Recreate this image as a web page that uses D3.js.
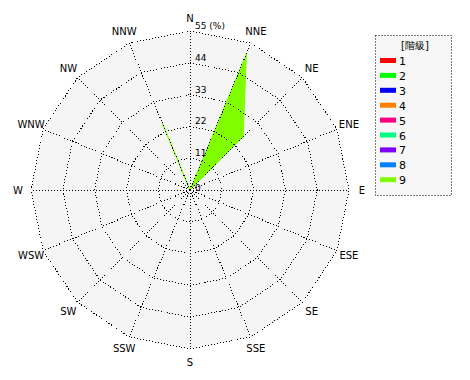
<!DOCTYPE html>
<html>
<head>
<meta charset="utf-8">
<script src="https://cdn.jsdelivr.net/npm/d3@7"></script>
<style>
  body { margin: 0; background: #fff; }
  text { font-family: "DejaVu Sans", sans-serif; font-size: 10px; fill: #000; }
</style>
</head>
<body>
<div id="chart"></div>
<script>
let width = 470, height = 380, cx = 190, cy = 190, radius = 159, labelRadius = 172;

let directions = ["N","NNE","NE","ENE","E","ESE","SE","SSE","S","SSW","SW","WSW","W","WNW","NW","NNW"];
let ticks = [11, 22, 33, 44, 55];
let classes = ["1","2","3","4","5","6","7","8","9"];
let classColors = ["#ff0000","#00ff00","#0000ff","#ff8000","#ff0080","#00ff80","#8000ff","#0080ff","#80ff00"];

// frequency (%) per direction, one array per class (N..NNW)
let class1 = [0,0,0,0,0,0,0,0,0,0,0,0,0,0,0,0];
let class2 = [0,0,0,0,0,0,0,0,0,0,0,0,0,0,0,0];
let class3 = [0,0,0,0,0,0,0,0,0,0,0,0,0,0,0,0];
let class4 = [0,0,0,0,0,0,0,0,0,0,0,0,0,0,0,0];
let class5 = [0,0,0,0,0,0,0,0,0,0,0,0,0,0,0,0];
let class6 = [0,0,0,0,0,0,0,0,0,0,0,0,0,0,0,0];
let class7 = [0,0,0,0,0,0,0,0,0,0,0,0,0,0,0,0];
let class8 = [0,0,0,0,0,0,0,0,0,0,0,0,0,0,0,0];
let class9 = [0,51,26,0,0,0,0,0,0,0,0,0,0,0,0,25];
let series = [class1, class2, class3, class4, class5, class6, class7, class8, class9];

let svg = d3.select("#chart")
    .append("svg")
    .attr("width", width)
    .attr("height", height);

let r = d3.scaleLinear().domain([0, 55]).range([0, radius]);
let angle = d3.scaleLinear().domain([0, directions.length]).range([0, 2 * Math.PI]);

function pt(i, v) {
    let a = angle(i);
    return [cx + r(v) * Math.sin(a), cy - r(v) * Math.cos(a)];
}

// background polygon
svg.append("polygon")
    .attr("points", directions.map(function(d, i) { return pt(i, 55).join(","); }).join(" "))
    .attr("fill", "#f5f5f5");

// stacked (cumulative) polygons, outermost first
let cum = [];
series.forEach(function(s, k) {
    cum.push(s.map(function(v, i) { return v + (k > 0 ? cum[k-1][i] : 0); }));
});
for (let k = series.length - 1; k >= 0; k--) {
    if (d3.max(cum[k]) === 0) continue;
    svg.append("polygon")
        .attr("points", cum[k].map(function(v, i) { return pt(i, v).join(","); }).join(" "))
        .attr("fill", classColors[k])
        .attr("stroke", classColors[k])
        .attr("stroke-width", 1);
}

// grid rings
ticks.forEach(function(t) {
    svg.append("polygon")
        .attr("points", directions.map(function(d, i) { return pt(i, t).join(","); }).join(" "))
        .attr("fill", "none")
        .attr("stroke", "#000")
        .attr("stroke-dasharray", "1,2")
        .attr("shape-rendering", "crispEdges");
});

// spokes
directions.forEach(function(d, i) {
    let p = pt(i, 55);
    svg.append("line")
        .attr("x1", cx).attr("y1", cy)
        .attr("x2", p[0]).attr("y2", p[1])
        .attr("stroke", "#000")
        .attr("stroke-dasharray", "1,2")
        .attr("shape-rendering", "crispEdges");
});

// direction labels
directions.forEach(function(d, i) {
    let a = angle(i);
    svg.append("text")
        .attr("x", cx + labelRadius * Math.sin(a))
        .attr("y", cy - labelRadius * Math.cos(a))
        .attr("text-anchor", "middle")
        .attr("dominant-baseline", "central")
        .text(d);
});

// tick labels
ticks.forEach(function(t) {
    svg.append("text")
        .attr("x", cx + 5)
        .attr("y", cy - r(t) - 2)
        .style("font-size", "9px")
        .text(t === 55 ? "55 (%)" : t);
});
svg.append("text").attr("x", cx + 5).attr("y", cy + 1).style("font-size", "9px").text("0");

// legend
let lg = svg.append("g").attr("transform", "translate(375,35)");
lg.append("rect")
    .attr("x", 0.5).attr("y", 0.5)
    .attr("width", 76).attr("height", 160)
    .attr("fill", "#f7f7f7")
    .attr("stroke", "#000")
    .attr("stroke-dasharray", "1,2");
lg.append("text")
    .attr("x", 40).attr("y", 14)
    .attr("text-anchor", "middle")
    .text("[階級]");
classes.forEach(function(c, i) {
    lg.append("rect")
        .attr("x", 5).attr("y", 23 + i * 14.9)
        .attr("width", 16).attr("height", 5)
        .attr("fill", classColors[i]);
    lg.append("text")
        .attr("x", 24).attr("y", 30 + i * 14.9)
        .style("font-size", "11px")
        .text(c);
});
</script>
</body>
</html>
